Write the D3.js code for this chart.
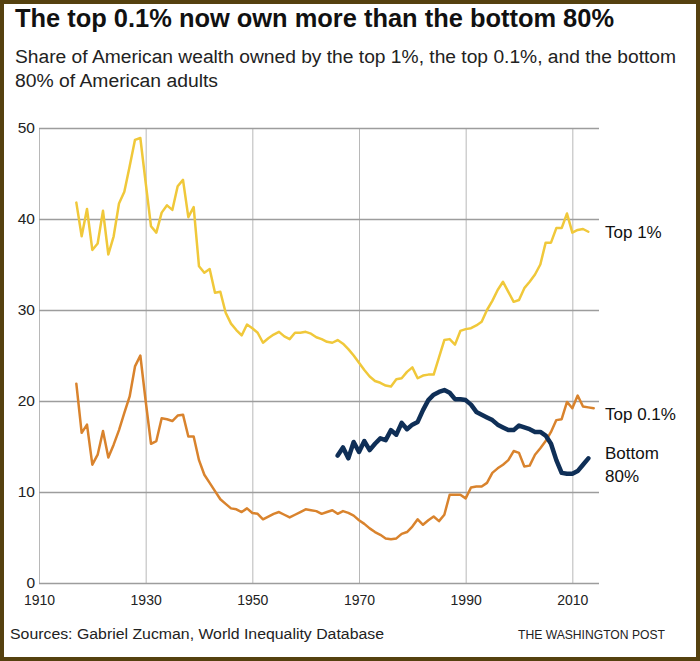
<!DOCTYPE html>
<html>
<head>
<meta charset="utf-8">
<script src="https://cdn.jsdelivr.net/npm/d3@7"></script>
<style>
  body { margin: 0; background: #fff; }
  svg { display: block; }
  .grid-y line { stroke: #9d9d9d; stroke-width: 1.5; }
  .grid-x line { stroke: #b8b8b8; stroke-width: 1; }
  .tick text { font-family: "Liberation Sans", Arial, sans-serif; font-size: 14px; fill: #222; }
  .grid-y .tick text { font-size: 15.5px; }
  .series { fill: none; stroke-linejoin: round; stroke-linecap: round; }
  .title { font-family: "Liberation Sans Narrow", "Liberation Sans", Arial, sans-serif; font-weight: bold; font-size: 25px; fill: #111; }
  .subtitle { font-family: "Liberation Sans", Arial, sans-serif; font-size: 18px; fill: #222; }
  .series-label { font-family: "Liberation Sans", Arial, sans-serif; font-size: 17px; fill: #111; }
  .footer { font-family: "Liberation Sans", Arial, sans-serif; font-size: 15.5px; fill: #222; }
  .credit { font-family: "Liberation Sans Narrow", "Liberation Sans", Arial, sans-serif; font-size: 13.5px; fill: #222; }
</style>
</head>
<body>
<div id="chart"></div>
<script>
// share of wealth (%) by year
const top1Start = 1917;
const top1 = [
  41.8, 38.1, 41.1, 36.6, 37.3, 40.9, 36.1, 38.1, 41.7, 43.0,
  45.8, 48.7, 48.9, 44.0, 39.2, 38.5, 40.7, 41.5, 41.0, 43.6,
  44.3, 40.2, 41.3, 34.8, 34.1, 34.5, 31.9, 32.0, 29.7, 28.5,
  27.8, 27.2, 28.4, 28.0, 27.5, 26.4, 26.9, 27.3, 27.6, 27.1,
  26.8, 27.5, 27.5, 27.6, 27.4, 27.0, 26.8, 26.5, 26.4, 26.7,
  26.3, 25.7, 25.0, 24.2, 23.4, 22.7, 22.2, 22.0, 21.7, 21.6,
  22.4, 22.5, 23.2, 23.7, 22.5, 22.8, 22.9, 22.9, 24.8, 26.7,
  26.8, 26.2, 27.7, 27.9, 28.0, 28.3, 28.7, 30.0, 31.0, 32.2,
  33.1, 32.0, 30.9, 31.1, 32.4, 33.1, 33.9, 35.0, 37.4, 37.4,
  39.0, 39.0, 40.6, 38.5, 38.8, 38.9, 38.6
];
const top01Start = 1917;
const top01 = [
  21.9, 16.5, 17.4, 13.0, 14.1, 16.7, 13.8, 15.2, 16.8, 18.7,
  20.5, 23.8, 25.0, 20.0, 15.3, 15.6, 18.1, 18.0, 17.8, 18.4,
  18.5, 16.1, 16.1, 13.5, 11.9, 11.0, 10.1, 9.2, 8.7, 8.2,
  8.1, 7.8, 8.2, 7.7, 7.6, 7.0, 7.3, 7.6, 7.8, 7.5,
  7.2, 7.5, 7.8, 8.1, 8.0, 7.9, 7.6, 7.8, 8.0, 7.6,
  7.9, 7.7, 7.4, 6.9, 6.5, 6.0, 5.6, 5.3, 4.9, 4.8,
  4.9, 5.4, 5.6, 6.2, 7.0, 6.4, 6.9, 7.3, 6.8, 7.5,
  9.7, 9.7, 9.7, 9.3, 10.5, 10.6, 10.6, 11.0, 12.1, 12.6,
  13.0, 13.5, 14.5, 14.3, 12.8, 12.9, 14.1, 14.8, 15.6, 16.6,
  17.9, 18.0, 19.9, 19.2, 20.6, 19.4, 19.3, 19.2
];
const bottom80Start = 1966;
const bottom80 = [
  14.0, 14.9, 13.7, 15.5, 14.4, 15.6, 14.6, 15.3, 15.9, 15.7,
  16.8, 16.3, 17.6, 16.9, 17.4, 17.7, 19.0, 20.1, 20.7, 21.0,
  21.2, 20.9, 20.2, 20.2, 20.1, 19.6, 18.8, 18.5, 18.2, 17.9,
  17.4, 17.1, 16.8, 16.8, 17.3, 17.1, 16.9, 16.6, 16.6, 16.2,
  15.3, 13.5, 12.1, 12.0, 12.0, 12.3, 13.0, 13.7
];

const xTicks = [1910, 1930, 1950, 1970, 1990, 2010];
const yTicks = [0, 10, 20, 30, 40, 50];

const width = 700, height = 661;
const margin = { left: 39, top: 128, right: 101, bottom: 78 };

const svg = d3.select('#chart').append('svg')
    .attr('width', width)
    .attr('height', height);

// frame
svg.append('rect').attr('width', width).attr('height', height).attr('fill', '#55410f');
svg.append('rect').attr('x', 4).attr('y', 4)
    .attr('width', width - 8).attr('height', height - 8).attr('fill', '#fff');

const x = d3.scaleLinear().domain([1910, 2015]).range([margin.left, width - margin.right]);
const y = d3.scaleLinear().domain([0, 50]).range([height - margin.bottom, margin.top]);
const plotW = width - margin.right - margin.left;
const plotH = y(0) - y(50);

// vertical grid + year labels
svg.append('g')
    .attr('class', 'grid-x')
    .attr('transform', `translate(0,${y(0)})`)
    .call(d3.axisBottom(x).tickValues(xTicks).tickFormat(d3.format('d'))
        .tickSize(-plotH).tickPadding(12))
    .call(g => g.select('.domain').remove());

// horizontal grid + value labels
svg.append('g')
    .attr('class', 'grid-y')
    .attr('transform', `translate(${margin.left},0)`)
    .call(d3.axisLeft(y).tickValues(yTicks).tickSize(-plotW).tickPadding(4))
    .call(g => g.select('.domain').remove());

const line = d3.line()
    .x(d => x(d.year))
    .y(d => y(d.value));

function toPoints(start, values) {
    return values.map((v, i) => ({ year: start + i, value: v }));
}

const series = [
    { values: toPoints(top1Start, top1), color: '#f0c83a', width: 2.5 },
    { values: toPoints(top01Start, top01), color: '#d9832d', width: 2.5 },
    { values: toPoints(bottom80Start, bottom80), color: '#0f2f57', width: 4.5 }
];

svg.append('g')
    .selectAll('path').data(series)
    .enter()
    .append('path')
    .attr('class', 'series')
    .attr('stroke', d => d.color)
    .attr('stroke-width', d => d.width)
    .attr('d', d => line(d.values));

// series labels
const lx = x(2015) + 6;
svg.append('text').attr('class', 'series-label').attr('x', lx).attr('y', 238).text('Top 1%');
svg.append('text').attr('class', 'series-label').attr('x', lx).attr('y', 420).text('Top 0.1%');
svg.append('text').attr('class', 'series-label').attr('x', lx).attr('y', 459).text('Bottom');
svg.append('text').attr('class', 'series-label').attr('x', lx).attr('y', 482).text('80%');

// titles
svg.append('text').attr('class', 'title')
    .attr('x', 15).attr('y', 27)
    .attr('textLength', 599).attr('lengthAdjust', 'spacingAndGlyphs')
    .text('The top 0.1% now own more than the bottom 80%');
svg.append('text').attr('class', 'subtitle')
    .attr('x', 15).attr('y', 63)
    .attr('textLength', 661).attr('lengthAdjust', 'spacingAndGlyphs')
    .text('Share of American wealth owned by the top 1%, the top 0.1%, and the bottom');
svg.append('text').attr('class', 'subtitle')
    .attr('x', 15).attr('y', 86.5)
    .attr('textLength', 203).attr('lengthAdjust', 'spacingAndGlyphs')
    .text('80% of American adults');

// footer
svg.append('text').attr('class', 'footer')
    .attr('x', 10).attr('y', 639)
    .attr('textLength', 374).attr('lengthAdjust', 'spacingAndGlyphs')
    .text('Sources: Gabriel Zucman, World Inequality Database');
svg.append('text').attr('class', 'credit')
    .attr('x', 518).attr('y', 639)
    .attr('textLength', 147).attr('lengthAdjust', 'spacingAndGlyphs')
    .text('THE WASHINGTON POST');
</script>
</body>
</html>
